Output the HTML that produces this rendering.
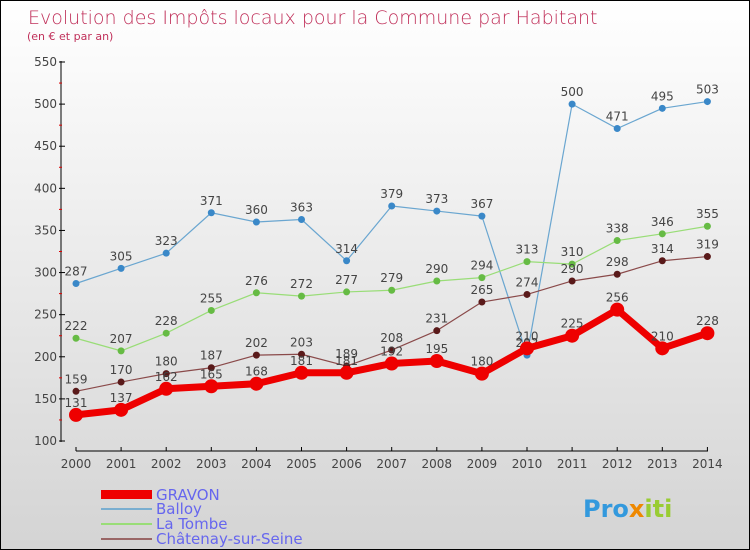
<!DOCTYPE html>
<html><head><meta charset="utf-8"><style>
body{margin:0}
#c{width:750px;height:550px;position:relative;box-sizing:border-box;border:1px solid #000;background:linear-gradient(#ffffff,#d4d4d4);font-family:"DejaVu Sans","Liberation Sans",sans-serif;overflow:hidden}
</style></head><body>
<div id="c">
<svg id="s" width="750" height="550" style="position:absolute;left:0;top:0">
<text x="27" y="23" font-size="19" fill="#c0305a" font-family="DejaVu Sans, sans-serif" font-weight="200">Evolution des Impôts locaux pour la Commune par Habitant</text>
<text x="26" y="39" font-size="11" fill="#c0305a">(en € et par an)</text>
<g id="axes"></g><g id="series"></g>
<g>
<rect x="100" y="489" width="51" height="9" fill="#ee0000"/>
<text x="155" y="499" font-size="15" fill="#6666ee">GRAVON</text>
<rect x="100" y="507" width="51" height="2" fill="#7aaed0"/>
<text x="155" y="513" font-size="15" fill="#6666ee">Balloy</text>
<rect x="100" y="522" width="51" height="2" fill="#99dd77"/>
<text x="155" y="528" font-size="15" fill="#6666ee">La Tombe</text>
<rect x="100" y="537" width="51" height="2" fill="#996666"/>
<text x="155" y="543" font-size="15" fill="#6666ee">Châtenay-sur-Seine</text>
</g>
<text x="582" y="516" font-size="24" font-weight="bold" fill="#3399dd">Pro<tspan fill="#ee8800">x</tspan><tspan fill="#99cc33">iti</tspan></text>
</svg>
</div>
<script>
const years=[2000,2001,2002,2003,2004,2005,2006,2007,2008,2009,2010,2011,2012,2013,2014];
const yTicks=[100,150,200,250,300,350,400,450,500,550];
const gravon=[131,137,162,165,168,181,181,192,195,180,210,225,256,210,228];
const balloy=[287,305,323,371,360,363,314,379,373,367,202,500,471,495,503];
const laTombe=[222,207,228,255,276,272,277,279,290,294,313,310,338,346,355];
const chatenay=[159,170,180,187,202,203,189,208,231,265,274,290,298,314,319];
const NS="http://www.w3.org/2000/svg";
const X=i=>75+i*45.1;
const Y=v=>440-(v-100)*(379/450);
function mk(tag,attrs,parent){const e=document.createElementNS(NS,tag);for(const k in attrs)e.setAttribute(k,attrs[k]);parent.appendChild(e);return e;}
const ax=document.getElementById('axes');
let l=mk('line',{x1:60,y1:60,x2:60,y2:441,stroke:'#000'},ax);


l=mk('line',{x1:75,y1:450,x2:707,y2:450,stroke:'#000'},ax);


yTicks.forEach((v,i)=>{
  mk('line',{x1:58,y1:Y(v),x2:64,y2:Y(v),stroke:'#000'},ax);
  if(i<yTicks.length-1)mk('line',{x1:58,y1:Y(v+25),x2:61,y2:Y(v+25),stroke:'#dd0000'},ax);
  const t=mk('text',{x:56,y:Y(v)+4,'font-size':12,fill:'#444','text-anchor':'end'},ax);
  t.textContent=v;
  
  
});
years.forEach((y,i)=>{
  mk('line',{x1:X(i),y1:446,x2:X(i),y2:450,stroke:'#000'},ax);
  const t=mk('text',{x:X(i),y:467,'font-size':12,fill:'#444','text-anchor':'middle'},ax);
  t.textContent=y;
  
  
});
const sg=document.getElementById('series');
function series(data,name,color,dot,w,r,labelFill){
  const g=mk('g',{},sg);
  
  
  const p=mk('polyline',{points:data.map((v,i)=>X(i)+','+Y(v)).join(' '),fill:'none',stroke:color,'stroke-width':w,'stroke-linejoin':'round'},g);
  
  
  data.forEach((v,i)=>{
    const c=mk('circle',{cx:X(i),cy:Y(v),r:r,fill:dot},g);
    
    
    const t=mk('text',{x:X(i),y:Y(v)-8,'font-size':12,fill:labelFill,'text-anchor':'middle'},g);
    t.textContent=v;
    
    
  });
}
series(balloy,'balloy','#6aa6d0','#3a88c8',1.2,3.5,'#444');
series(laTombe,'la-tombe','#99dd77','#66bb44',1.2,3.5,'#444');
series(chatenay,'chatenay','#8a4a4a','#5a1a1a',1.2,3.5,'#444');
series(gravon,'gravon','#ee0000','#ee0000',7,7,'#444');
</script>
</body></html>
